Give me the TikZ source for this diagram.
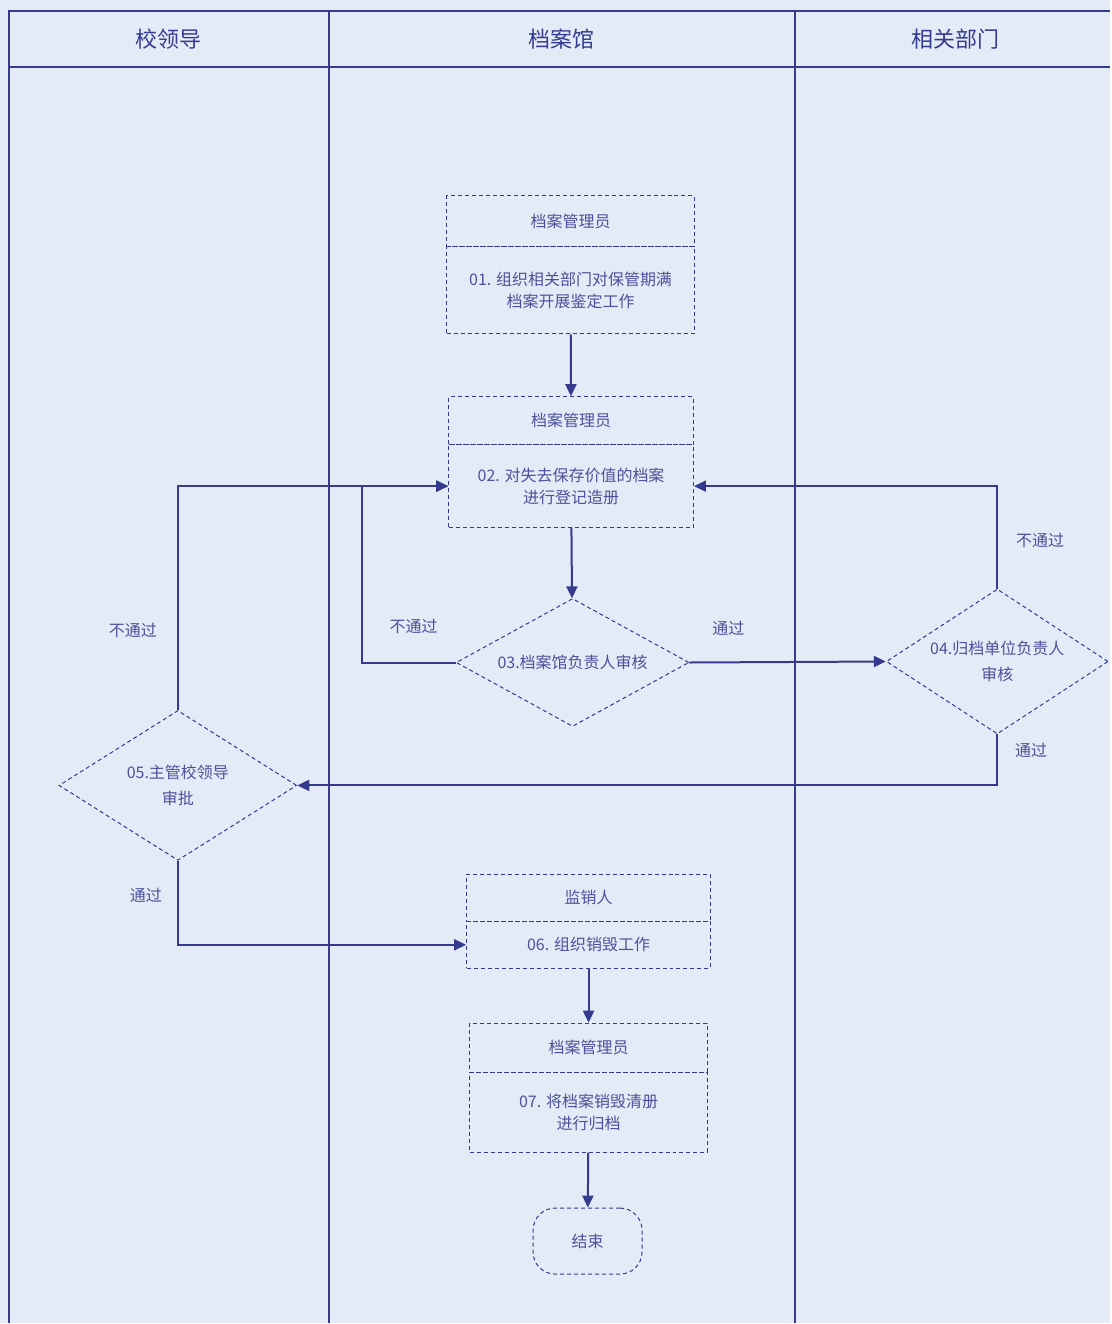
\documentclass[tikz,border=0pt]{standalone}
\usepackage{fontspec}
\newfontfamily\cjk{Noto Sans CJK SC}
\usetikzlibrary{shapes.geometric,arrows.meta}
\definecolor{lanebg}{HTML}{E3EBF7}
\definecolor{laneline}{HTML}{343B8E}
\definecolor{lanetext}{HTML}{4C519A}

\begin{document}
\begin{tikzpicture}[x=1pt,y=-1pt,
    every node/.style={font=\cjk\fontsize{16pt}{22pt}\selectfont, text=lanetext},
    lanehead/.style={font=\cjk\fontsize{22pt}{26pt}\selectfont, text=laneline},
    dashbox/.style={draw=laneline, line width=1pt, dash pattern=on 4pt off 3pt,
      inner sep=0pt, align=center},
    decision/.style={dashbox, diamond, font=\cjk\fontsize{16pt}{26pt}\selectfont},
    endbox/.style={dashbox, rounded corners=22pt, minimum width=109pt, minimum height=66pt},
    flow/.style={draw=laneline, line width=2pt, -{Triangle[length=12pt,width=11pt]}}]
  \fill[lanebg] (0,0) rectangle (1111,1324);
  \draw[laneline, line width=2pt]
    (9,1324) |- (1111,11)
    (9,67) -- (1111,67)
    (329,11) -- (329,1324)
    (796,11) -- (796,1324);
  \node[lanehead] (lead) at (169,39) {校领导};
  \node[lanehead] (arch) at (562,39) {档案馆};
  \node[lanehead] (dept) at (956,39) {相关部门};

  \node[dashbox, minimum width=248pt, minimum height=51pt] (t1) at (571,221.5) {档案管理员};
  \node[dashbox, minimum width=248pt, minimum height=87pt] (b1) at (571,290.5)
    {01. 组织相关部门对保管期满\\档案开展鉴定工作};
  \node[dashbox, minimum width=245pt, minimum height=48pt] (t2) at (571.5,421) {档案管理员};
  \node[dashbox, minimum width=245pt, minimum height=83pt] (b2) at (571.5,486.5)
    {02. 对失去保存价值的档案\\进行登记造册};
  \node[decision, aspect=1.82, minimum width=233pt, minimum height=128pt] (d3) at (573,663)
    {03.档案馆负责人审核};
  \node[decision, aspect=1.53, minimum width=222pt, minimum height=145pt] (d4) at (998,662)
    {04.归档单位负责人\\审核};
  \node[decision, aspect=1.59, minimum width=238pt, minimum height=150pt] (d5) at (178,786)
    {05.主管校领导\\审批};
  \node[dashbox, minimum width=244pt, minimum height=47pt] (t6) at (589,898.5) {监销人};
  \node[dashbox, minimum width=244pt, minimum height=47pt] (b6) at (589,945.5) {06. 组织销毁工作};
  \node[dashbox, minimum width=238pt, minimum height=49pt] (t7) at (589,1048.5) {档案管理员};
  \node[dashbox, minimum width=238pt, minimum height=80pt] (b7) at (589,1113)
    {07. 将档案销毁清册\\进行归档};
  \node[endbox] (stop) at (588,1242) {结束};

  \node (l3yes) at (729,629) {通过};
  \node (l3no) at (414,627) {不通过};
  \node (l4no) at (1041,541) {不通过};
  \node (l4yes) at (1032,751) {通过};
  \node (l5no) at (133,631) {不通过};
  \node (l5yes) at (146,896) {通过};

  \begin{scope}[flow]
    \draw (b1) -- (t2);
    \draw (b2) -- (d3);
    \draw (d3.east) -- (d4.west);
    \draw (d3.west) -- ++(-94,0) |- (b2.west);
    \draw (d4.north) |- (b2.east);
    \draw (d4.south) |- (d5.east);
    \draw (d5.north) |- (b2.west);
    \draw (d5.south) |- (b6.west);
    \draw (b6) -- (t7);
    \draw (b7) -- (stop);
  \end{scope}
\end{tikzpicture}
\end{document}
